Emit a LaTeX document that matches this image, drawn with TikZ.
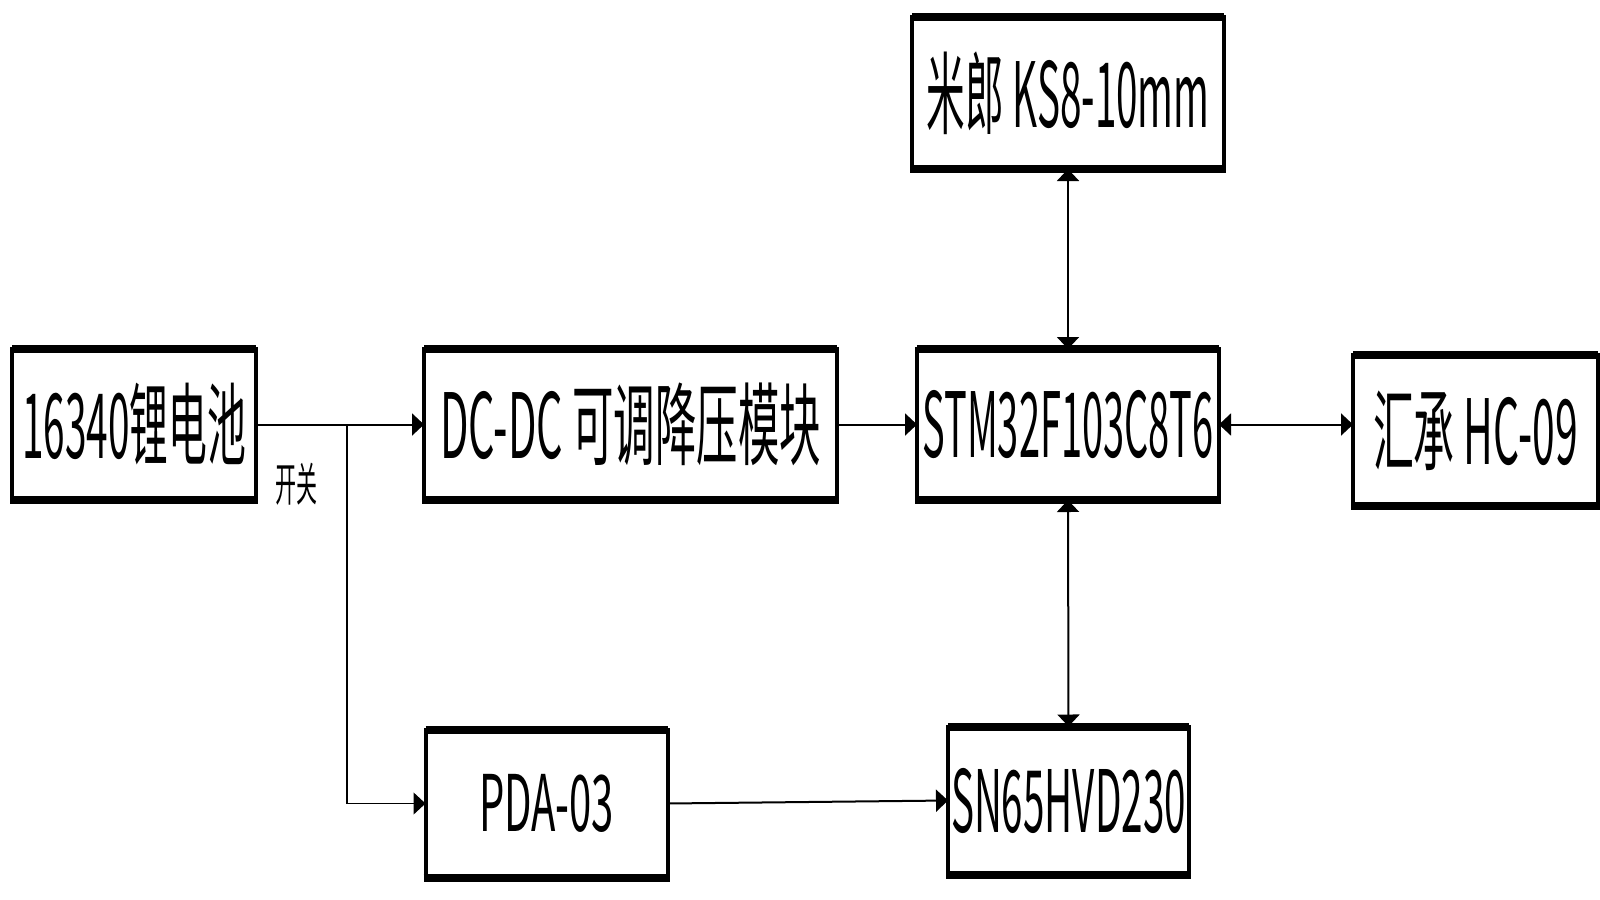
\documentclass[tikz,border=0pt]{standalone}
\usepackage{fontspec}
\setmainfont{Noto Sans CJK SC}
\usetikzlibrary{arrows.meta}

\newsavebox\lblbox
\newlength\lblwd
% text squeezed sideways to a given width, font size kept
\newcommand\fitlbl[3]{%
  \sbox\lblbox{\fontsize{#2}{#2}\selectfont #3}%
  \setlength\lblwd{\wd\lblbox}%
  \pgfmathsetmacro\lblsx{#1/\lblwd}%
  \scalebox{\lblsx}[1]{\usebox\lblbox}}

\tikzset{
  blk/.style={draw, line width=4pt, outer sep=0pt, inner sep=0pt},
  wire/.style={line width=2pt},
  arr/.style={wire, -{Triangle[length=12pt,width=22pt]}},
  darr/.style={wire, {Triangle[length=12pt,width=22pt]}-{Triangle[length=12pt,width=22pt]}},
}

\begin{document}
\begin{tikzpicture}[x=1pt,y=-1pt]
\useasboundingbox (0,0) rectangle (1600,899);
% blocks
\node[blk, minimum width=244pt, minimum height=151pt] (bat) at (134,424.5) {\fitlbl{224}{90}{16340锂电池}};
\node[blk, minimum width=413pt, minimum height=151pt] (dcdc) at (630.5,424.5) {\fitlbl{381}{90}{DC-DC 可调降压模块}};
\node[blk, minimum width=302pt, minimum height=151pt] (mcu) at (1068,424.5) {\fitlbl{291}{90}{STM32F103C8T6}};
\node[blk, minimum width=245pt, minimum height=151pt] (bt) at (1475.5,430.5) {\fitlbl{205}{90}{汇承 HC-09}};
\node[blk, minimum width=312pt, minimum height=152pt] (enc) at (1068,93) {\fitlbl{283}{90}{米郎 KS8-10mm}};
\node[blk, minimum width=242pt, minimum height=148pt] (pda) at (546.5,803.5) {\fitlbl{135}{78}{PDA-03}};
\node[blk, minimum width=241pt, minimum height=148pt] (can) at (1068.5,800.5) {\fitlbl{235}{86}{SN65HVD230}};
% heavy top and bottom edges
\foreach \n in {bat,dcdc,mcu,bt,enc,pda,can}
  \draw[line width=8pt, shorten <=-2pt, shorten >=-2pt] (\n.north west) -- (\n.north east) (\n.south west) -- (\n.south east);

% power path
\draw[arr] (bat.east) -- (dcdc.west);
\coordinate (sw) at (347,424.5);
\draw[arr, line width=1.2pt] (sw) |- (pda.west);
\node (swlbl) at (296,484) {\fitlbl{42}{46}{开关}};
\draw[arr] (dcdc.east) -- (mcu.west);
\draw[arr] (pda.east) -- (can.west);

% links to the MCU
\draw[darr] (mcu.east) -- (mcu.east -| bt.west);
\draw[darr] (enc.south) -- (mcu.north);
\draw[darr] (mcu.south) -- (can.north);
\end{tikzpicture}
\end{document}
